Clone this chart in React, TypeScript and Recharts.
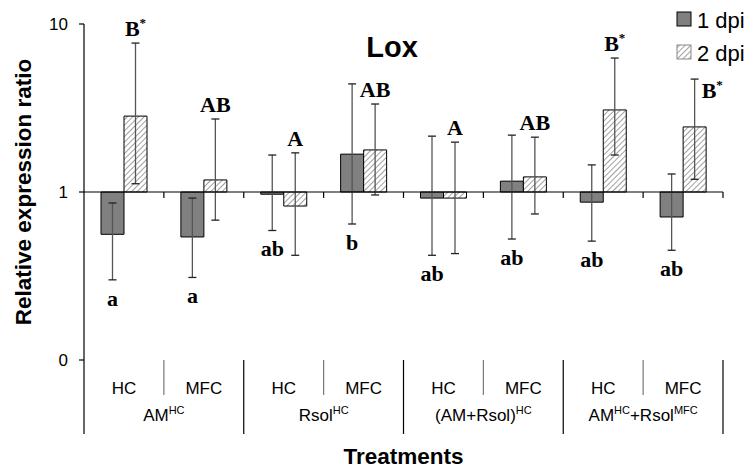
import React from 'react';
import { BarChart, Bar, XAxis, YAxis, ReferenceLine, Customized } from 'recharts';

const subLabels = ['HC', 'MFC', 'HC', 'MFC', 'HC', 'MFC', 'HC', 'MFC'];
const groupLabels = ['AM^{HC}', 'Rsol^{HC}', '(AM+Rsol)^{HC}', 'AM^{HC}+Rsol^{MFC}'];
const dpi1 = [0.56, 0.54, 0.97, 1.68, 0.92, 1.16, 0.87, 0.71];
const dpi2 = [2.83, 1.18, 0.825, 1.78, 0.92, 1.23, 3.08, 2.44];
const err1Low = [0.3, 0.31, 0.59, 0.645, 0.42, 0.525, 0.51, 0.45];
const err1High = [0.86, 0.92, 1.66, 4.4, 2.15, 2.18, 1.45, 1.28];
const err2Low = [1.12, 0.68, 0.42, 0.96, 0.43, 0.74, 1.66, 1.19];
const err2High = [7.7, 2.72, 1.71, 3.34, 1.98, 2.12, 6.27, 4.7];
const lowerLetters = ['a', 'a', 'ab', 'b', 'ab', 'ab', 'ab', 'ab'];
const upperLetters = ['B*', 'AB', 'A', 'AB', 'A', 'AB', 'B*', ''];
const sideLetters = ['', '', '', '', '', '', '', 'B*'];
const yTicks = [0.1, 1, 10];
const yTickLabels = ['0', '1', '10'];
const seriesNames = ['1 dpi', '2 dpi'];

const data = subLabels.map((s, i) => ({
  cat: i,
  sub: s,
  d1: [1, dpi1[i]],
  d2: [1, dpi2[i]],
  e1: [err1Low[i], err1High[i]],
  e2: [err2Low[i], err2High[i]],
  lower: lowerLetters[i],
  upper: upperLetters[i],
  side: sideLetters[i],
}));

const SANS = '"Liberation Sans", Arial, sans-serif';
const SERIF = '"Liberation Serif", "Times New Roman", serif';
const DARK = '#808080';
const PLOT_BOTTOM = 360;

function rich(s: string, base: number, sup: number) {
  const parts = s.split(/(\^\{[^}]*\})/).filter((p) => p.length > 0);
  let raised = false;
  return parts.map((p, i) => {
    if (p.startsWith('^{')) {
      const el = (
        <tspan key={i} fontSize={sup} dy={raised ? 0 : -7}>
          {p.slice(2, -1)}
        </tspan>
      );
      raised = true;
      return el;
    }
    const el = (
      <tspan key={i} fontSize={base} dy={raised ? 7 : 0}>
        {p}
      </tspan>
    );
    raised = false;
    return el;
  });
}

function letter(s: string, x: number, y: number, anchor: string) {
  if (!s) return null;
  const star = s.endsWith('*');
  const main = star ? s.slice(0, -1) : s;
  return (
    <text x={x} y={y} textAnchor={anchor} fontFamily={SERIF} fontWeight="bold" fontSize={22} fill="#000">
      {main}
      {star ? (
        <tspan fontSize={13} dy={-9}>
          *
        </tspan>
      ) : null}
    </text>
  );
}

function errShape(kind: 'lower' | 'upper') {
  return (props: any) => {
    const { x, y, width, height, payload } = props;
    if (x == null || y == null) return <g />;
    const cx = x + width / 2;
    const top = y;
    const bottom = y + height;
    const cap = 4;
    return (
      <g>
        <line x1={cx} y1={top} x2={cx} y2={bottom} stroke="#555" strokeWidth={1.3} />
        <line x1={cx - cap} y1={top} x2={cx + cap} y2={top} stroke="#222" strokeWidth={1.3} />
        <line x1={cx - cap} y1={bottom} x2={cx + cap} y2={bottom} stroke="#222" strokeWidth={1.3} />
        {kind === 'lower' ? letter(payload.lower, cx, bottom + 26, 'middle') : null}
        {kind === 'upper' ? letter(payload.upper, cx, top - 7, 'middle') : null}
        {kind === 'upper' ? letter(payload.side, cx + 7, top + 19, 'start') : null}
      </g>
    );
  };
}

const CatTick = (props: any) => {
  const { x, payload, index, width, visibleTicksCount } = props;
  const y = PLOT_BOTTOM;
  const n = visibleTicksCount || data.length;
  const band = width ? width / n : 639 / data.length;
  const i = typeof index === 'number' ? index : payload.index;
  const right = x + band / 2;
  const major = i % 2 === 1;
  return (
    <g>
      {i === 0 ? <line x1={x - band / 2} y1={y} x2={x - band / 2} y2={y + 74} stroke="#000" strokeWidth={1.2} /> : null}
      <line
        x1={right}
        y1={y}
        x2={right}
        y2={y + (major ? 74 : 35)}
        stroke={major ? '#000' : '#777'}
        strokeWidth={1.2}
      />
      <text x={x} y={y + 34} textAnchor="middle" fontFamily={SANS} fontSize={17} fill="#000">
        {subLabels[i]}
      </text>
      {major ? (
        <text x={x - band / 2} y={y + 61} textAnchor="middle" fontFamily={SANS} fontSize={17} fill="#000">
          {rich(groupLabels[(i - 1) / 2], 17, 11)}
        </text>
      ) : null}
    </g>
  );
};

const BaseLine = (props: any) => {
  const { x1, y1, x2 } = props;
  if (x1 == null) return <g />;
  const n = data.length;
  const step = (x2 - x1) / n;
  return (
    <g>
      <line x1={x1} y1={y1} x2={x2} y2={y1} stroke="#000" strokeWidth={1.2} />
      {data.map((_, k) => (
        <line key={k} x1={x1 + step * (k + 1)} y1={y1} x2={x1 + step * (k + 1)} y2={y1 + 6} stroke="#000" strokeWidth={1.2} />
      ))}
    </g>
  );
};

const Extras = () => (
  <g>
    <defs>
      <pattern id="hatch" width="4" height="4" patternUnits="userSpaceOnUse" patternTransform="rotate(45)">
        <rect width="4" height="4" fill="#fff" />
        <line x1="0" y1="0" x2="0" y2="4" stroke="#a0a0a0" strokeWidth="2" />
      </pattern>
    </defs>
    <text x={392} y={57} textAnchor="middle" fontFamily={SANS} fontWeight="bold" fontSize={29} fill="#000">
      Lox
    </text>
    <rect x={677} y={12} width={14} height={14} fill={DARK} stroke="#000" strokeWidth={1} />
    <text x={697} y={28} fontFamily={SANS} fontSize={22} fill="#000">
      {seriesNames[0]}
    </text>
    <rect x={677} y={45} width={14} height={14} fill="url(#hatch)" stroke="#888" strokeWidth={1} />
    <text x={697} y={61} fontFamily={SANS} fontSize={22} fill="#000">
      {seriesNames[1]}
    </text>
  </g>
);

const YLabel = (props: any) => {
  const vb = props.viewBox || {};
  const cy = (vb.y ?? 24) + (vb.height ?? 336) / 2;
  const x = 31;
  return (
    <text
      x={x}
      y={cy}
      transform={`rotate(-90, ${x}, ${cy})`}
      textAnchor="middle"
      fontFamily={SANS}
      fontWeight="bold"
      fontSize={22.5}
      fill="#000"
    >
      Relative expression ratio
    </text>
  );
};

const XLabel = (props: any) => {
  const vb = props.viewBox || {};
  const cx = (vb.x ?? 84) + (vb.width ?? 639) / 2;
  return (
    <text x={cx} y={464} textAnchor="middle" fontFamily={SANS} fontWeight="bold" fontSize={22.5} fill="#000">
      Treatments
    </text>
  );
};

export default function App() {
  return (
    <div style={{ position: 'absolute', left: 0, top: 0, width: 753, height: 472, background: '#fff' }}>
      <BarChart
        width={753}
        height={472}
        data={data}
        margin={{ top: 24, right: 30, bottom: 0, left: 0 }}
        barGap={0}
      >
        <Customized component={Extras} />
        <XAxis
          xAxisId="main"
          dataKey="cat"
          type="category"
          height={112}
          interval={0}
          axisLine={false}
          tickLine={false}
          tickSize={0}
          tickMargin={0}
          tick={CatTick}
          label={{ content: XLabel }}
        />
        <XAxis xAxisId="err" dataKey="cat" type="category" hide height={0} />
        <YAxis
          type="number"
          scale="log"
          domain={[0.1, 10]}
          ticks={yTicks}
          width={84}
          tickFormatter={(v: number) => yTickLabels[yTicks.indexOf(v)] ?? String(v)}
          tick={{ fontFamily: SANS, fontSize: 17, fill: '#000' }}
          tickSize={5}
          tickMargin={11}
          axisLine={{ stroke: '#000', strokeWidth: 1.2 }}
          tickLine={{ stroke: '#000', strokeWidth: 1.2 }}
          label={{ content: YLabel }}
        />
        <Bar xAxisId="main" dataKey="d1" name={seriesNames[0]} barSize={23} fill={DARK} stroke="#000" strokeWidth={1} isAnimationActive={false} />
        <Bar xAxisId="main" dataKey="d2" name={seriesNames[1]} barSize={23} fill="url(#hatch)" stroke="#000" strokeWidth={1} isAnimationActive={false} />
        <ReferenceLine xAxisId="main" y={1} shape={BaseLine} />
        <Bar xAxisId="err" dataKey="e1" barSize={23} shape={errShape('lower')} isAnimationActive={false} />
        <Bar xAxisId="err" dataKey="e2" barSize={23} shape={errShape('upper')} isAnimationActive={false} />
      </BarChart>
    </div>
  );
}
